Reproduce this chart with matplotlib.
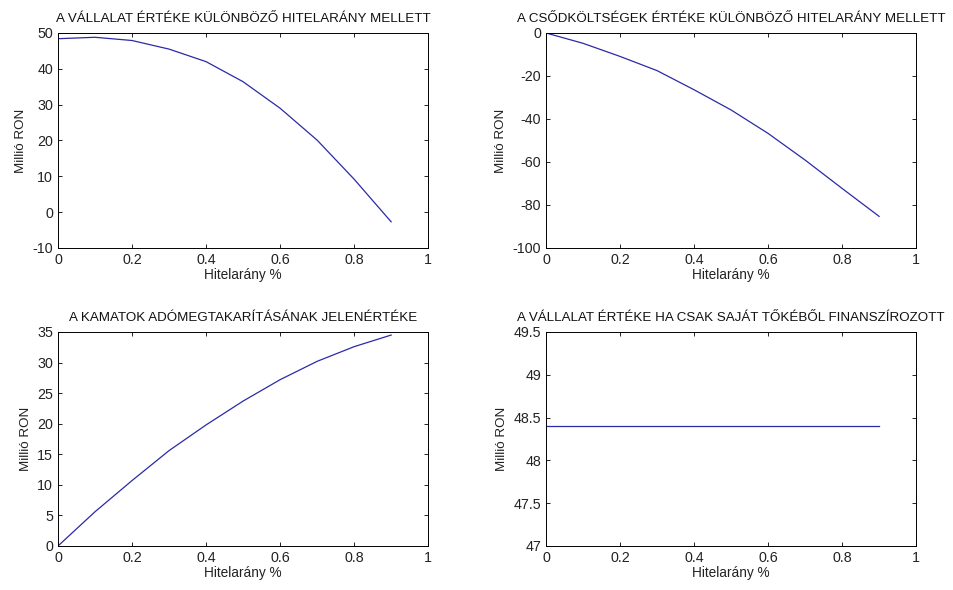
import matplotlib
matplotlib.use("Agg")
import matplotlib.pyplot as plt

plt.rcParams['font.family'] = ['Liberation Sans', 'DejaVu Sans']

# hitelarány (debt ratio)
debt_ratio = [0.0, 0.1, 0.2, 0.3, 0.4, 0.5, 0.6, 0.7, 0.8, 0.9]

# vállalat értéke (levered firm value)
firm_value = [48.4, 48.8, 47.9, 45.5, 42.0, 36.4, 29.0, 20.1, 9.2, -2.7]
# csődköltségek (bankruptcy costs)
bankruptcy = [0.0, -4.8, -10.9, -17.5, -26.4, -35.8, -46.7, -59.1, -72.3, -85.3]
# kamatok adómegtakarítása (tax shield PV)
tax_shield = [0.0, 5.6, 10.7, 15.6, 19.8, 23.7, 27.2, 30.2, 32.6, 34.5]
# saját tőke finanszírozás (unlevered value)
unlevered = [48.4] * len(debt_ratio)

panels = [
    ("A VÁLLALAT ÉRTÉKE KÜLÖNBÖZŐ HITELARÁNY MELLETT", firm_value,
     (-10, 50), [-10, 0, 10, 20, 30, 40, 50], ['-10', '0', '10', '20', '30', '40', '50'],
     [0.0608, 0.5797, 0.388, 0.3644]),
    ("A CSŐDKÖLTSÉGEK ÉRTÉKE KÜLÖNBÖZŐ HITELARÁNY MELLETT", bankruptcy,
     (-100, 0), [-100, -80, -60, -40, -20, 0], ['-100', '-80', '-60', '-40', '-20', '0'],
     [0.5723, 0.5797, 0.388, 0.3644]),
    ("A KAMATOK ADÓMEGTAKARÍTÁSÁNAK JELENÉRTÉKE", tax_shield,
     (0, 35), [0, 5, 10, 15, 20, 25, 30, 35], ['0', '5', '10', '15', '20', '25', '30', '35'],
     [0.0608, 0.0746, 0.388, 0.3627]),
    ("A VÁLLALAT ÉRTÉKE HA CSAK SAJÁT TŐKÉBŐL FINANSZÍROZOTT", unlevered,
     (47, 49.5), [47, 47.5, 48, 48.5, 49, 49.5], ['47', '47.5', '48', '48.5', '49', '49.5'],
     [0.5723, 0.0746, 0.388, 0.3627]),
]

xticks = [0, 0.2, 0.4, 0.6, 0.8, 1]
xlabels = ['0', '0.2', '0.4', '0.6', '0.8', '1']

fig = plt.figure(figsize=(9.54, 5.90), dpi=100)
for title, values, ylim, yt, ytl, pos in panels:
    ax = fig.add_axes(pos)
    ax.plot(debt_ratio, values, color='#2a2aa8', lw=0.9)
    ax.set_xlim(0, 1)
    ax.set_ylim(*ylim)
    ax.set_xticks(xticks)
    ax.set_xticklabels(xlabels)
    ax.set_yticks(yt)
    ax.set_yticklabels(ytl)
    ax.tick_params(direction='in', top=True, right=True, length=3, width=0.6,
                   labelsize=10.3, pad=3.5, labelcolor='#222222')
    for s in ax.spines.values():
        s.set_linewidth(0.7)
    ax.set_title(title, fontsize=9.6, pad=8, color='#111111')
    ax.set_xlabel("Hitelarány %", fontsize=9.8, labelpad=1, color='#222222')
    ax.set_ylabel("Millió RON", fontsize=9.6, labelpad=4, color='#222222')

fig.savefig("out.png", dpi=100)
